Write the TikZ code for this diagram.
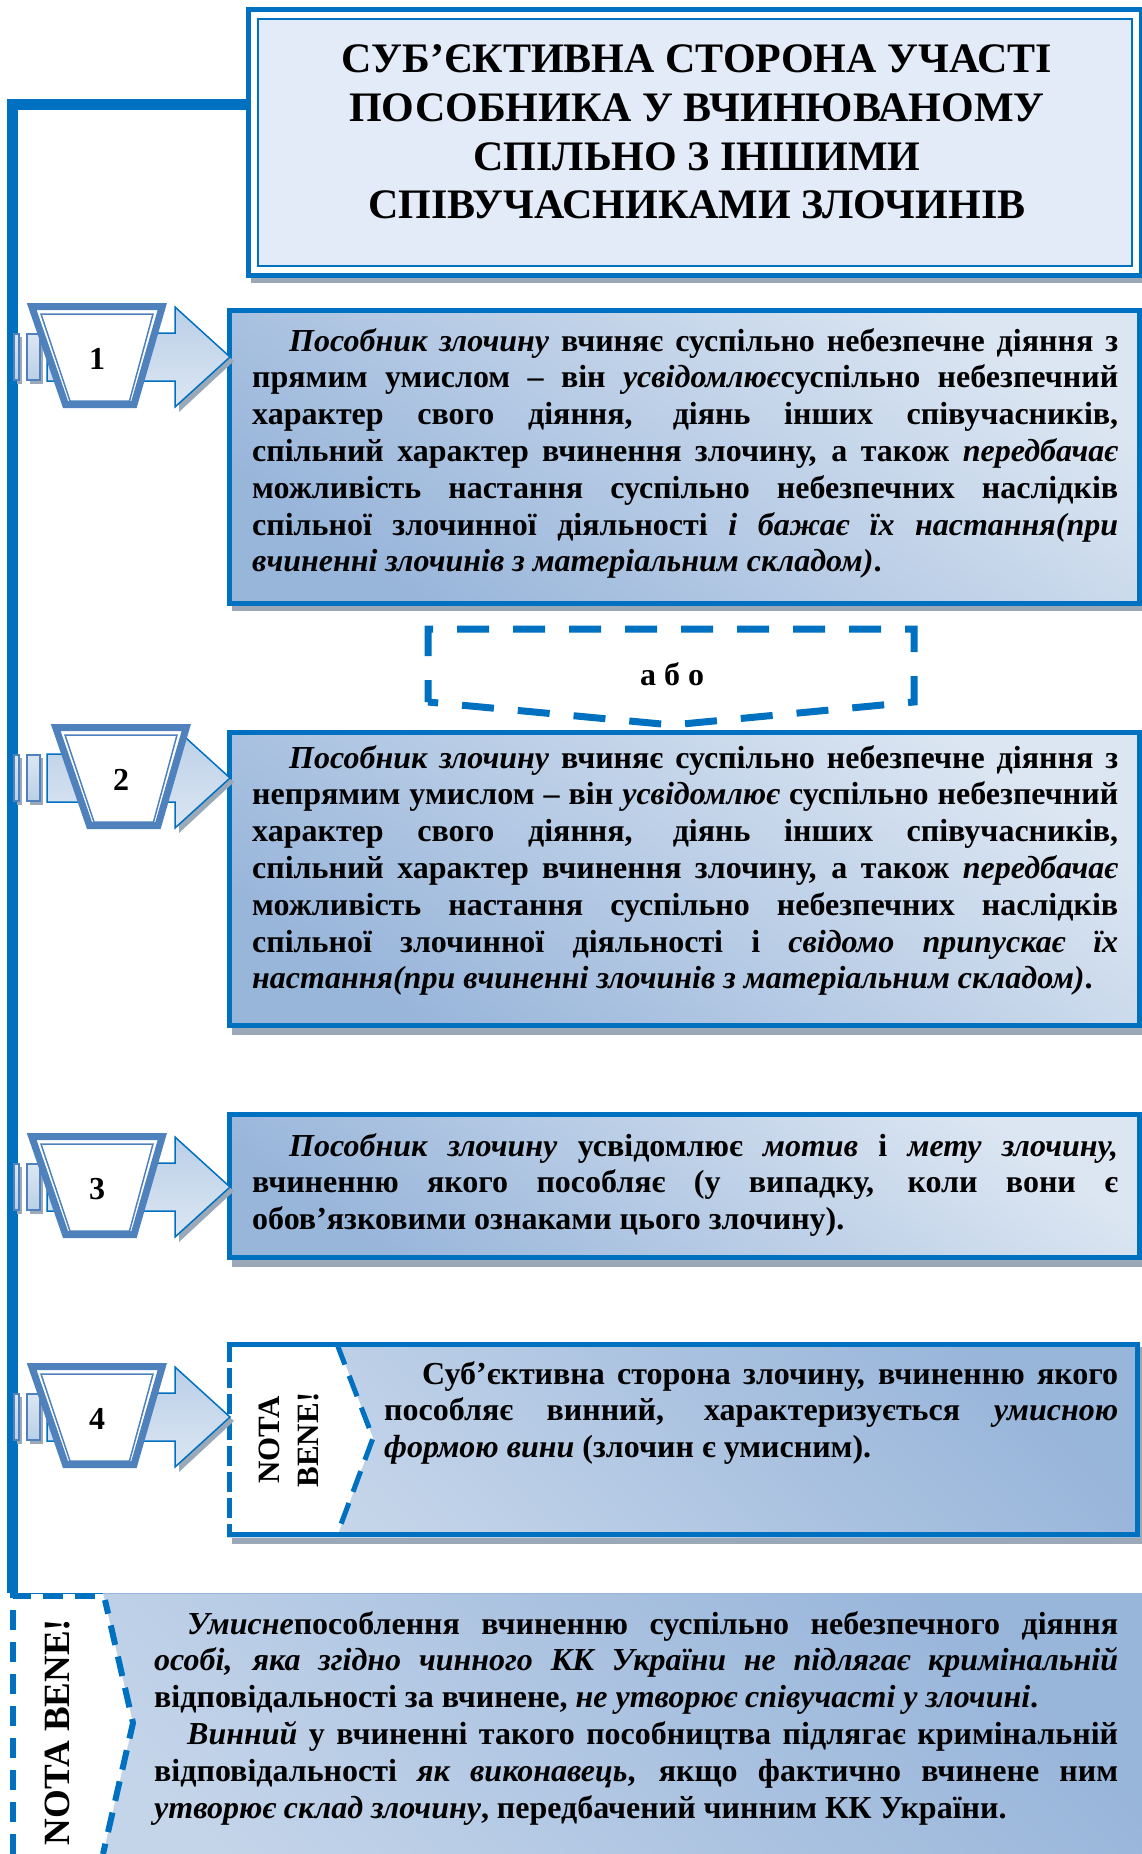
\documentclass[tikz,border=0pt]{standalone}
\usepackage{fontspec}
\setmainfont{Liberation Serif}
\usetikzlibrary{calc}
\definecolor{mblue}{HTML}{0070C0}
\definecolor{steel}{HTML}{4F81BD}
\definecolor{lt}{HTML}{DCE6F2}
\definecolor{md}{HTML}{BACFE8}
\definecolor{dk}{HTML}{98B5DA}
\definecolor{tA}{HTML}{E2EBF7}
\definecolor{tB}{HTML}{9CBEE6}
\definecolor{shgray}{HTML}{9AA8B8}
\newcommand\mybodyfont{\fontsize{32}{36.8}\selectfont\bfseries\hyphenpenalty=10000\exhyphenpenalty=10000\tolerance=10000\emergencystretch=0pt}
\newcommand\pitem[4]{%
\begin{scope}[shift={(0,#1)}]
 \fill[shgray] (17,-20) rectangle (22,27);
 \fill[shgray] (30,-20) rectangle (43,27);
 \fill[shgray] (179,-45) -- (234,4) -- (179,55) -- cycle;
 \draw[steel,line width=1.2pt,top color=lt,bottom color=md] (14,-23) rectangle (19,23);
 \draw[steel,line width=1.2pt,top color=lt,bottom color=md] (27,-23) rectangle (40,23);
 \draw[mblue,line width=1.5pt,top color=md,bottom color=lt,line join=miter] (47,-24) -- (175,-24) -- (175,-50) -- (230,0) -- (175,50) -- (175,24) -- (47,24) -- cycle;
 \coordinate (#4tip) at (230,0);
 \draw[steel,line width=7pt,fill=white,line join=miter] ({31.7+#2},-50.5) -- ({162.3+#2},-50.5) -- ({134+#2},47.5) -- ({65.5+#2},47.5) -- cycle;
 \draw[steel,line width=1.5pt] ({41+#2},-43) -- ({153+#2},-43) -- ({129.5+#2},44) -- ({70+#2},44) -- cycle;
 \node[font=\fontsize{32}{36}\selectfont\bfseries,inner sep=0pt] (#4) at ({97+#2},2) {#3};
\end{scope}}
\begin{document}
\begin{tikzpicture}[x=1pt,y=-1pt,
  bx/.style={draw=mblue,line width=5pt,inner sep=0pt,outer sep=0pt,anchor=north west},
  boxfill/.style={top color=lt,middle color=lt!85!dk,bottom color=dk,shading angle=-35},
  nbfill/.style={top color=dk,middle color=lt,bottom color=lt!65!dk,shading angle=-45},
  txt/.style={inner sep=0pt,anchor=base west,align=justify,font=\mybodyfont},
  mainline/.style={mblue,line width=11pt,line join=miter},
  nbdash/.style={mblue,line width=5pt,dash pattern=on 22pt off 12pt},
  shd/.style={fill=shgray}]
\useasboundingbox (0,0) rectangle (1142,1854);
\clip (0,0) rectangle (1142,1854);
\fill[white] (0,0) rectangle (1142,1854);

% ---------- title ----------
\fill[shd] (251,14) rectangle (1142,283);
\node[bx,draw=mblue,fill=white,minimum width=893pt,minimum height=266pt] (tb) at (248.5,9.5) {};
\shade[top color=tA,middle color=tB,bottom color=tA,shading angle=45] (258,19) rectangle (1132,266);
\draw[mblue,line width=2pt] (258,19) rectangle (1132,266);
\node[inner sep=0pt,align=center,font=\fontsize{42}{48.7}\selectfont\bfseries] (tt) at (697,132)
 {СУБ’ЄКТИВНА СТОРОНА УЧАСТІ\\ПОСОБНИКА У ВЧИНЮВАНОМУ\\СПІЛЬНО З ІНШИМИ\\СПІВУЧАСНИКАМИ ЗЛОЧИНІВ};

% ---------- main connector ----------
\coordinate (tjoin) at (246,105);
\coordinate (bjoin) at (12.5,1593);
\draw[mainline] (tjoin) -| (bjoin);

% ---------- box 1 ----------
\fill[shd] (232,314) rectangle (1142,611);
\node[bx,boxfill,minimum width=910pt,minimum height=293pt] (b1) at (229.5,310.5) {};
\node[txt,text width=866pt] (t1) at (252,351) {\hspace*{37pt}\textit{Пособник злочину} вчиняє суспільно небезпечне діяння з\linebreak
прямим умислом – він \textit{усвідомлює}суспільно небезпечний\linebreak
характер свого діяння, діянь інших співучасників,\linebreak
спільний характер вчинення злочину, а також \textit{передбачає}\linebreak
можливість настання суспільно небезпечних наслідків\linebreak
спільної злочинної діяльності \textit{і бажає їх настання(при}\linebreak
\textit{вчиненні злочинів з матеріальним складом)}.};

% ---------- або ----------
\node[inner sep=0pt,font=\fontsize{32}{36}\selectfont\bfseries] (abo) at (672,674) {а б о};
\draw[mblue,line width=7pt,dash pattern=on 32pt off 24pt,dash phase=10pt] (428,702) -- (428,629) -- (914,629) -- (914,702) -- (672,725) -- cycle;

% ---------- box 2 ----------
\fill[shd] (232,736) rectangle (1142,1035);
\node[bx,boxfill,minimum width=910pt,minimum height=293pt] (b2) at (229.5,732.5) {};
\node[txt,text width=866pt] (t2) at (252,768) {\hspace*{37pt}\textit{Пособник злочину} вчиняє суспільно небезпечне діяння з\linebreak
непрямим умислом – він \textit{усвідомлює} суспільно небезпечний\linebreak
характер свого діяння, діянь інших співучасників,\linebreak
спільний характер вчинення злочину, а також \textit{передбачає}\linebreak
можливість настання суспільно небезпечних наслідків\linebreak
спільної злочинної діяльності і \textit{свідомо припускає їх}\linebreak
\textit{настання(при вчиненні злочинів з матеріальним складом)}.};

% ---------- box 3 ----------
\fill[shd] (232,1117) rectangle (1142,1267);
\node[bx,boxfill,minimum width=910pt,minimum height=143pt] (b3) at (229.5,1114.5) {};
\node[txt,text width=866pt] (t3) at (252,1156) {\hspace*{37pt}\textit{Пособник злочину} усвідомлює \textit{мотив} і \textit{мету злочину,}\linebreak
вчиненню якого пособляє (у випадку, коли вони є\linebreak
обов’язковими ознаками цього злочину).};

% ---------- box 4 ----------
\fill[shd] (232,1347) rectangle (1142,1544);
\node[bx,draw=none,nbfill,minimum width=913pt,minimum height=195pt] (b4) at (227,1342) {};
\fill[white] (227,1342) -- (337,1342) -- (373,1438) -- (337,1537) -- (227,1537) -- cycle;
\draw[mblue,line width=5pt] (227,1344.5) -- (1137.5,1344.5) -- (1137.5,1534.5) -- (227,1534.5);
\draw[mblue,line width=5pt,dash pattern=on 20pt off 6pt] (229.5,1342) -- (229.5,1537);
\draw[nbdash] (337,1344) -- (373,1438) -- (337,1535);
\node[inner sep=0pt,rotate=90,align=center,font=\fontsize{31}{39}\selectfont\bfseries] (nb4) at (289,1440) {NOTA\\BENE!};
\node[txt,text width=734pt] (t4) at (384,1384) {\hspace*{38pt}Суб’єктивна сторона злочину, вчиненню якого\linebreak
пособляє винний, характеризується \textit{умисною}\linebreak
\textit{формою вини} (злочин є умисним).};

% ---------- bottom box ----------
\shade[nbfill] (13,1593) rectangle (1142,1854);
\fill[white] (13,1593) -- (103,1593) -- (133,1723) -- (103,1854) -- (13,1854) -- cycle;
\draw[dk,line width=1.5pt] (103,1593.5) -- (1142,1593.5);
\draw[mblue,line width=1pt] (13,1593.5) -- (103,1593.5);
\draw[mblue,line width=6pt,dash pattern=on 20pt off 12pt] (13,1854) -- (13,1596) -- (103,1596);
\draw[mblue,line width=6pt,dash pattern=on 20pt off 12pt,dash phase=6pt] (105,1600) -- (133,1723) -- (103,1854);
\node[inner sep=0pt,rotate=90,font=\fontsize{37}{42}\selectfont\bfseries] (nb5) at (58,1732) {NOTA BENE!};
\node[txt,text width=964pt] (t5) at (154,1634) {\hspace*{33pt}\textit{Умисне}пособлення вчиненню суспільно небезпечного діяння\linebreak
\textit{особі, яка згідно чинного КК України не підлягає кримінальній}\linebreak
відповідальності за вчинене, \textit{не утворює співучасті у злочині}.\par
\hspace*{33pt}\textit{Винний} у вчиненні такого пособництва підлягає кримінальній\linebreak
відповідальності \textit{як виконавець}, якщо фактично вчинене ним\linebreak
\textit{утворює склад злочину}, передбачений чинним КК України.};

% ---------- numbered pointers ----------
\pitem{357}{0}{1}{n1}
\pitem{778}{24}{2}{n2}
\pitem{1187}{0}{3}{n3}
\pitem{1417}{0}{4}{n4}
\end{tikzpicture}
\end{document}
